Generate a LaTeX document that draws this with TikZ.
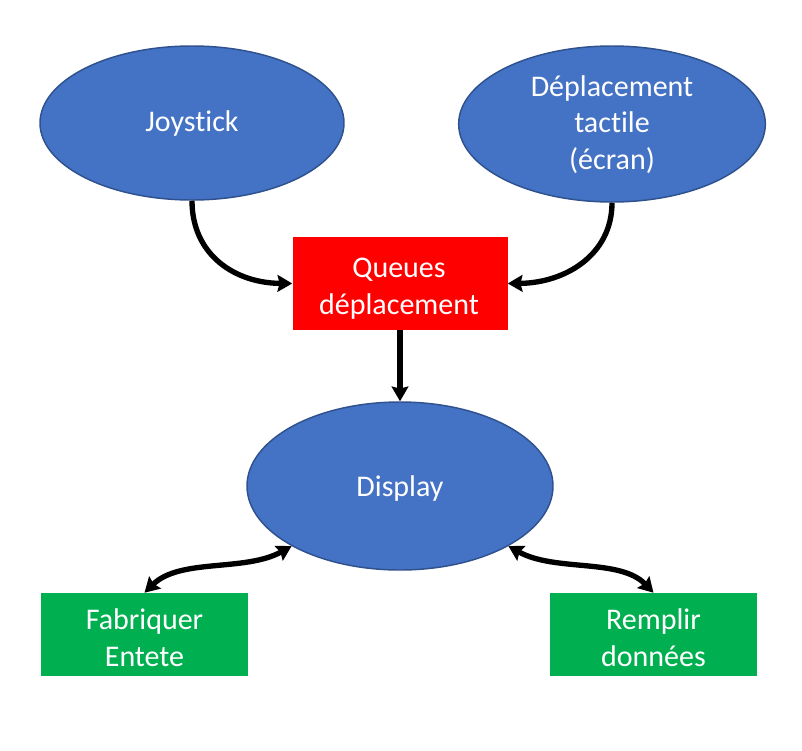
\documentclass[tikz,border=0pt]{standalone}
\usepackage{fontspec}
\setmainfont{Carlito}[Ligatures={NoCommon}]
\usetikzlibrary{shapes.geometric,arrows.meta}
\definecolor{ellfill}{HTML}{4472C4}
\definecolor{elldraw}{HTML}{2F528F}
\definecolor{qred}{HTML}{FF0000}
\definecolor{bgreen}{HTML}{00B050}
\tikzset{
  ell/.style={ellipse,fill=ellfill,draw=elldraw,line width=1.1pt,inner sep=0pt,minimum width=#1},
  lbl/.style={text=white,align=center,font=\fontsize{22.5}{27.5}\selectfont,inner sep=0pt},
  redbox/.style={rectangle,fill=qred,inner sep=0pt,minimum width=161.25pt,minimum height=69.75pt},
  greenbox/.style={rectangle,fill=bgreen,inner sep=0pt,minimum width=155.25pt,minimum height=62.25pt},
  tip/.tip={Stealth[length=11pt,width=12.5pt,inset=1.5pt]},
  conn/.style={line width=4pt,-tip},
  dconn/.style={line width=4pt,tip-tip}
}
\begin{document}
\begin{tikzpicture}[x=0.75pt,y=-0.75pt]
\useasboundingbox (0,0) rectangle (802,750);
\node[ell=228pt,minimum height=115.5pt] (J) at (192,123) {};
\node[lbl] (Jt) at (192,123.5) {Joystick};
\node[ell=230pt,minimum height=117pt] (T) at (612,124) {};
\node[lbl] (Tt) at (612,124.5) {Déplacement\\tactile\\(écran)};
\node[redbox] (Q) at (400,283.5) {};
\node[lbl] (Qt) at (399,288.5) {Queues\\déplacement};
\node[ell=229.5pt,minimum height=126pt] (D) at (400,486) {};
\node[lbl] (Dt) at (400,488) {Display};
\node[greenbox] (F) at (144.5,634.5) {};
\node[lbl] (Ft) at (144.5,637.5) {Fabriquer\\Entete};
\node[greenbox] (R) at (653.5,634.5) {};
\node[lbl] (Rt) at (653.5,637.5) {Remplir\\données};
\draw[conn] (J.south) .. controls (192,255) and (235,283) .. (Q.west);
\draw[conn] (T.south) .. controls (612,255) and (565,283) .. (Q.east);
\draw[conn] (Q.south) -- (D.north);
\draw[dconn] (D.209) .. controls (245,572) and (180,558) .. (F.north);
\draw[dconn] (D.331) .. controls (555,572) and (620,558) .. (R.north);
\end{tikzpicture}
\end{document}
